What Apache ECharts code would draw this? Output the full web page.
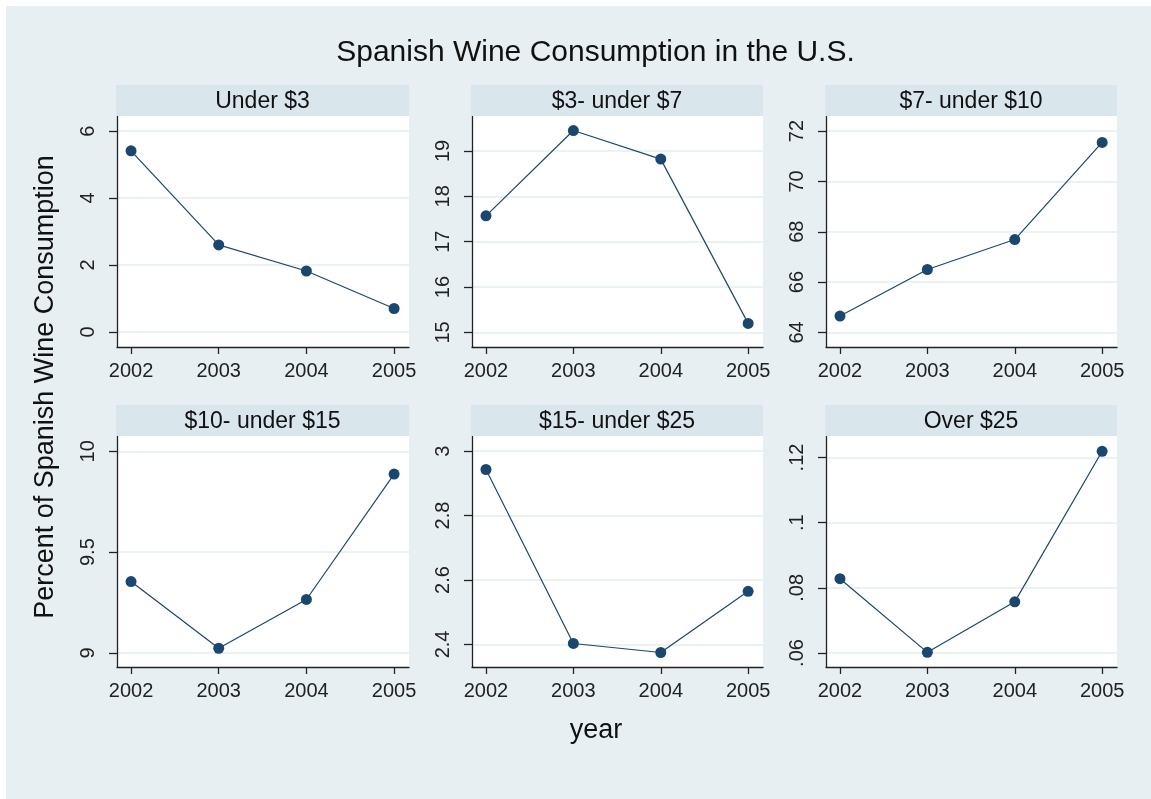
<!DOCTYPE html>
<html>
<head>
<meta charset="utf-8">
<script src="https://cdn.jsdelivr.net/npm/echarts@6/dist/echarts.min.js"></script>
<style>
html,body{margin:0;padding:0;background:#ffffff;width:1151px;height:799px;overflow:hidden;}
#chart{position:absolute;left:6px;top:6px;width:1150px;height:798px;}
</style>
</head>
<body>
<div id="chart"></div>
<script>
// ---- data ----
const years = [2002, 2003, 2004, 2005];
const panelTitles = ['Under $3', '$3- under $7', '$7- under $10', '$10- under $15', '$15- under $25', 'Over $25'];
const under3 = [5.41, 2.60, 1.82, 0.70];
const from3to7 = [17.57, 19.45, 18.82, 15.20];
const from7to10 = [64.65, 66.50, 67.69, 71.55];
const from10to15 = [9.354, 9.023, 9.265, 9.887];
const from15to25 = [2.943, 2.403, 2.375, 2.565];
const over25 = [0.0828, 0.0602, 0.0757, 0.1219];
const yTicks1 = [0, 2, 4, 6];
const yTicks2 = [15, 16, 17, 18, 19];
const yTicks3 = [64, 66, 68, 70, 72];
const yTicks4 = [9, 9.5, 10];
const yTicks5 = [2.4, 2.6, 2.8, 3];
const yTicks6 = [0.06, 0.08, 0.1, 0.12];
const xTicks = [2002, 2003, 2004, 2005];
const chartTitle = 'Spanish Wine Consumption in the U.S.';
const yTitle = 'Percent of Spanish Wine Consumption';
const xTitle = 'year';

// ---- layout ----
const O = 6;
const FONT = "'Liberation Sans', Arial, sans-serif";
const seriesData = [under3, from3to7, from7to10, from10to15, from15to25, over25];
const yTickSets = [yTicks1, yTicks2, yTicks3, yTicks4, yTicks5, yTicks6];
const yRanges = [[-0.45, 6.45], [14.68, 19.77], [63.42, 72.6], [8.93, 10.076], [2.33, 3.047], [0.0557, 0.1266]];
const colLeft = [117, 472, 826];
const colWidth = [292, 291, 291];
const rowTop = [116, 436];
const plotH = 231;
const headerH = 31;

function fmt(v) {
  let s = String(+v.toFixed(4));
  if (s.startsWith('0.')) s = s.slice(1);
  return s;
}

const grids = [], xAxes = [], yAxes = [], series = [], graphics = [];
graphics.push({type:'text', x: 595.5 - O, y: 53 - O, style:{text: chartTitle, font: '30px ' + FONT, fill:'#111', textAlign:'center', textVerticalAlign:'middle'}});

for (let i = 0; i < 6; i++) {
  const c = i % 3, r = Math.floor(i / 3);
  const left = colLeft[c] - O, top = rowTop[r] - O;
  grids.push({left: left, top: top, width: colWidth[c], height: plotH, show: true, backgroundColor: '#ffffff', borderWidth: 0, containLabel: false});
  xAxes.push({
    type: 'value', gridIndex: i, min: 2001.84, max: 2005.17,
    axisLine: {show: true, onZero: false, lineStyle: {color: '#222', width: 1.3}},
    axisTick: {show: true, length: 7, customValues: xTicks, lineStyle: {color: '#222', width: 1.3}},
    axisLabel: {customValues: xTicks, fontSize: 20, fontFamily: FONT, color: '#222', margin: 14, formatter: v => String(v)},
    splitLine: {show: false}
  });
  const ticks = yTickSets[i];
  yAxes.push({
    type: 'value', gridIndex: i, min: yRanges[i][0], max: yRanges[i][1],
    axisLine: {show: true, onZero: false, lineStyle: {color: '#222', width: 1.3}},
    axisTick: {show: true, length: 8, customValues: ticks, lineStyle: {color: '#222', width: 1.3}},
    axisLabel: {customValues: ticks, rotate: 90, fontSize: 20, fontFamily: FONT, color: '#222', margin: 19, formatter: v => fmt(v)},
    splitLine: {show: true, lineStyle: {color: '#e5eef1', width: 1.5}}
  });
  series.push({
    type: 'line', xAxisIndex: i, yAxisIndex: i,
    data: years.map((y, k) => [y, seriesData[i][k]]),
    symbol: 'circle', symbolSize: 11,
    itemStyle: {color: '#1a476f'},
    lineStyle: {color: '#1a476f', width: 1.2},
    animation: false
  });
  const hx = colLeft[c] - 1 - O, hy = rowTop[r] - headerH - O;
  graphics.push({type:'rect', shape:{x: hx, y: hy, width: colWidth[c] + 1, height: headerH}, style:{fill:'#d9e6eb'}, z: 1});
  graphics.push({type:'text', x: hx + (colWidth[c] + 1) / 2, y: hy + headerH / 2 + 1, style:{text: panelTitles[i], font: '23px ' + FONT, fill:'#111', textAlign:'center', textVerticalAlign:'middle'}, z: 2});
}
graphics.push({type:'text', x: 46 - O, y: 387 - O, rotation: Math.PI / 2, style:{text: yTitle, font: '27px ' + FONT, fill:'#111', textAlign:'center', textVerticalAlign:'middle'}});
graphics.push({type:'text', x: 596 - O, y: 731 - O, style:{text: xTitle, font: '27px ' + FONT, fill:'#111', textAlign:'center', textVerticalAlign:'middle'}});

const chart = echarts.init(document.getElementById('chart'), null, {renderer: 'canvas'});
chart.setOption({
  backgroundColor: '#e8eff2',
  animation: false,
  grid: grids, xAxis: xAxes, yAxis: yAxes, series: series,
  graphic: graphics
});
</script>
</body>
</html>
